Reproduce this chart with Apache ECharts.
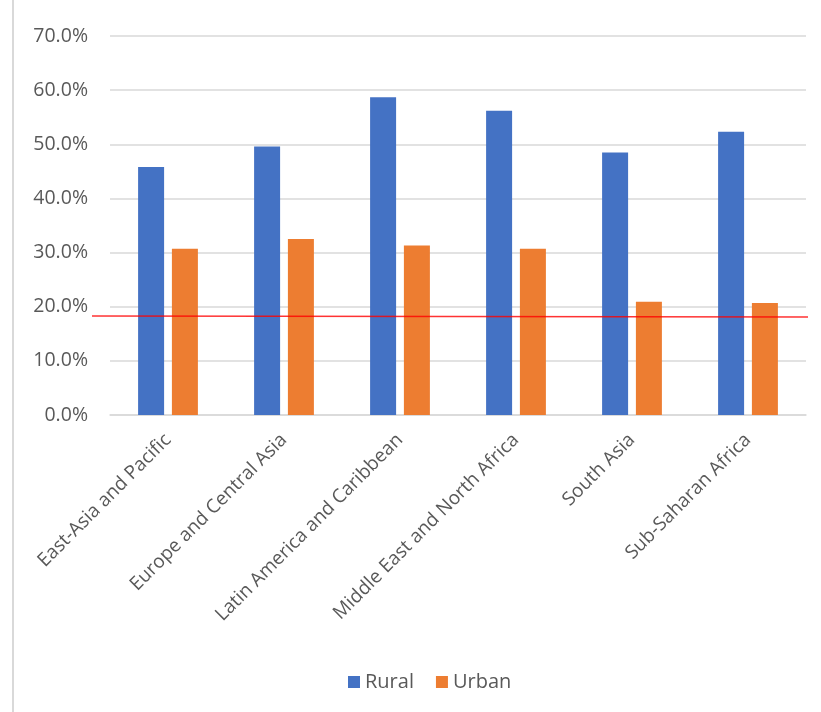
<!DOCTYPE html>
<html>
<head>
<meta charset="utf-8">
<script src="https://cdn.jsdelivr.net/npm/echarts@6/dist/echarts.min.js"></script>
<style>
  html, body { margin: 0; padding: 0; background: #ffffff; }
  #chart { width: 821px; height: 712px; }
</style>
</head>
<body>
<div id="chart"></div>
<script>
// Regions compared, share (%) for rural vs urban populations
const regions = [
  'East-Asia and Pacific',
  'Europe and Central Asia',
  'Latin America and Caribbean',
  'Middle East and North Africa',
  'South Asia',
  'Sub-Saharan Africa'
];
const rural = [45.8, 49.6, 58.7, 56.2, 48.5, 52.3];
const urban = [30.7, 32.5, 31.3, 30.7, 20.9, 20.7];
// Reference line level (%) at its left and right ends
const referenceLine = [18.3, 18.1];
const yTicks = { min: 0, max: 70, interval: 10 };

const font = '"Open Sans", "Liberation Sans", sans-serif';
const textColor = '#595959';

const chart = echarts.init(document.getElementById('chart'), null, { renderer: 'canvas' });

chart.setOption({
  animation: false,
  backgroundColor: '#ffffff',
  textStyle: { fontFamily: font },
  grid: { left: 110, right: 15, top: 36, bottom: 297, containLabel: false },
  legend: {
    data: ['Rural', 'Urban'],
    left: 343,
    top: 667,
    itemWidth: 12,
    itemHeight: 12,
    itemGap: 22,
    icon: 'rect',
    textStyle: { fontFamily: font, fontSize: 20, color: textColor }
  },
  xAxis: {
    type: 'category',
    data: regions,
    axisLine: { show: true, lineStyle: { color: '#d9d9d9', width: 1.5 } },
    axisTick: { show: false },
    axisLabel: {
      interval: 0,
      rotate: 45,
      margin: 22,
      fontFamily: font,
      fontSize: 19,
      color: textColor
    }
  },
  yAxis: {
    type: 'value',
    min: yTicks.min,
    max: yTicks.max,
    interval: yTicks.interval,
    axisLine: { show: false },
    axisTick: { show: false },
    splitLine: { lineStyle: { color: '#d9d9d9', width: 1.5 } },
    axisLabel: {
      margin: 22,
      fontFamily: font,
      fontSize: 19.5,
      color: textColor,
      formatter: v => v.toFixed(1) + '%'
    }
  },
  series: [
    {
      name: 'Rural',
      type: 'bar',
      data: rural,
      barWidth: 26,
      barGap: '30%',
      itemStyle: { color: '#4472C4' },
      markLine: {
        silent: true,
        symbol: 'none',
        label: { show: false },
        lineStyle: { color: 'rgba(255,0,0,0.8)', width: 1.5, type: 'solid' },
        data: [[
          { yAxis: referenceLine[0], x: 92 },
          { yAxis: referenceLine[1], x: 808 }
        ]]
      },
      z: 2
    },
    {
      name: 'Urban',
      type: 'bar',
      data: urban,
      barWidth: 26,
      itemStyle: { color: '#ED7D31' },
      z: 2
    }
  ],
  graphic: [
    {
      type: 'line',
      shape: { x1: 13, y1: 0, x2: 13, y2: 712 },
      style: { stroke: '#d9d9d9', lineWidth: 2 }
    }
  ]
});
</script>
</body>
</html>
